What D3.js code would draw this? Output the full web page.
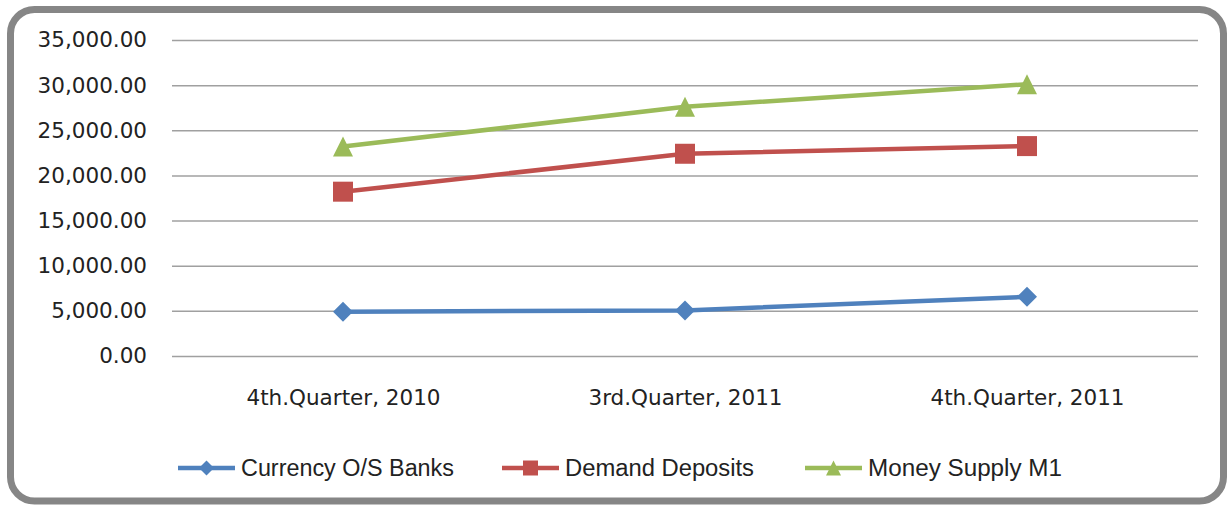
<!DOCTYPE html>
<html>
<head>
<meta charset="utf-8">
<script src="https://cdn.jsdelivr.net/npm/d3@7"></script>
<style>
  body { margin: 0; background: #fff; }
  svg { display: block; }
  .tick text { font-family: "DejaVu Sans", sans-serif; font-size: 21.5px; fill: #222; }
  .legend text { font-family: "Liberation Sans Narrow", "Liberation Sans", sans-serif; font-size: 23px; fill: #222; }
</style>
</head>
<body>
<svg id="chart" width="1227" height="505"></svg>
<script>
// quarters on the x axis
var categories = ["4th.Quarter, 2010", "3rd.Quarter, 2011", "4th.Quarter, 2011"]
var currency = [4900, 5050, 6550]
var demand = [18200, 22400, 23250]
var moneyM1 = [23200, 27600, 30100]
var yTicks = [0, 5000, 10000, 15000, 20000, 25000, 30000, 35000]
var seriesNames = ["Currency O/S Banks", "Demand Deposits", "Money Supply M1"]

var series = [
  {name: seriesNames[0], values: currency, color: "#4F81BD", marker: "diamond"},
  {name: seriesNames[1], values: demand, color: "#C0504D", marker: "square"},
  {name: seriesNames[2], values: moneyM1, color: "#9BBB59", marker: "triangle"}
]

var svg = d3.select("#chart")
var plot = {left: 172, right: 1198, top: 40, bottom: 356}

// rounded frame round the whole chart
svg.append("rect")
  .attr("x", 10.5).attr("y", 9.5)
  .attr("width", 1213).attr("height", 491.5)
  .attr("rx", 24).attr("ry", 24)
  .attr("fill", "#fff")
  .attr("stroke", "#868686")
  .attr("stroke-width", 7)

var x = d3.scalePoint().domain(categories).range([plot.left, plot.right]).padding(0.5)
var y = d3.scaleLinear().domain([0, 35000]).range([plot.bottom, plot.top])
var fmt = d3.format(",.2f")

// y axis: labels plus full width gridlines
var yAxis = svg.append("g")
  .attr("transform", "translate(" + plot.left + ",0)")
  .call(d3.axisLeft(y).tickValues(yTicks).tickFormat(fmt)
    .tickSize(-(plot.right - plot.left)).tickPadding(25))
yAxis.select(".domain").remove()
yAxis.selectAll(".tick line").attr("stroke", "#a0a0a0").attr("stroke-width", 1.5)

// x axis labels only
var xAxis = svg.append("g")
  .attr("transform", "translate(0," + plot.bottom + ")")
  .call(d3.axisBottom(x).tickSize(0).tickPadding(34))
xAxis.select(".domain").remove()

function markerPath(kind, s){
  var h = s / 2
  if (kind === "diamond") return "M0," + (-h) + "L" + h + ",0L0," + h + "L" + (-h) + ",0Z"
  if (kind === "square") return "M" + (-h) + "," + (-h) + "H" + h + "V" + h + "H" + (-h) + "Z"
  return "M0," + (-h) + "L" + h + "," + h + "H" + (-h) + "Z"
}

var line = d3.line()
  .x(function(d, i){ return x(categories[i]) })
  .y(function(d){ return y(d) })

var g = svg.selectAll(".series").data(series).enter().append("g").attr("class", "series")

g.append("path")
  .attr("d", function(d){ return line(d.values) })
  .attr("fill", "none")
  .attr("stroke", function(d){ return d.color })
  .attr("stroke-width", 4.5)

g.each(function(s){
  d3.select(this).selectAll(".pt").data(s.values).enter().append("path")
    .attr("class", "pt")
    .attr("transform", function(d, i){ return "translate(" + x(categories[i]) + "," + y(d) + ")" })
    .attr("d", markerPath(s.marker, 20))
    .attr("fill", s.color)
})

// legend along the bottom
var legendX = [178, 502, 805]
var legendW = [213, 189, 194]
var legend = svg.append("g").attr("class", "legend")
  .selectAll("g").data(series).enter().append("g")
  .attr("transform", function(d, i){ return "translate(" + legendX[i] + ",468)" })

legend.append("line")
  .attr("x1", 0).attr("x2", 57)
  .attr("stroke", function(d){ return d.color })
  .attr("stroke-width", 4.5)

legend.append("path")
  .attr("transform", "translate(28.5,0)")
  .attr("d", function(d){ return markerPath(d.marker, 15) })
  .attr("fill", function(d){ return d.color })

legend.append("text")
  .attr("x", 63).attr("dy", "0.35em")
  .attr("textLength", function(d, i){ return legendW[i] })
  .attr("lengthAdjust", "spacingAndGlyphs")
  .text(function(d){ return d.name })
</script>
</body>
</html>
